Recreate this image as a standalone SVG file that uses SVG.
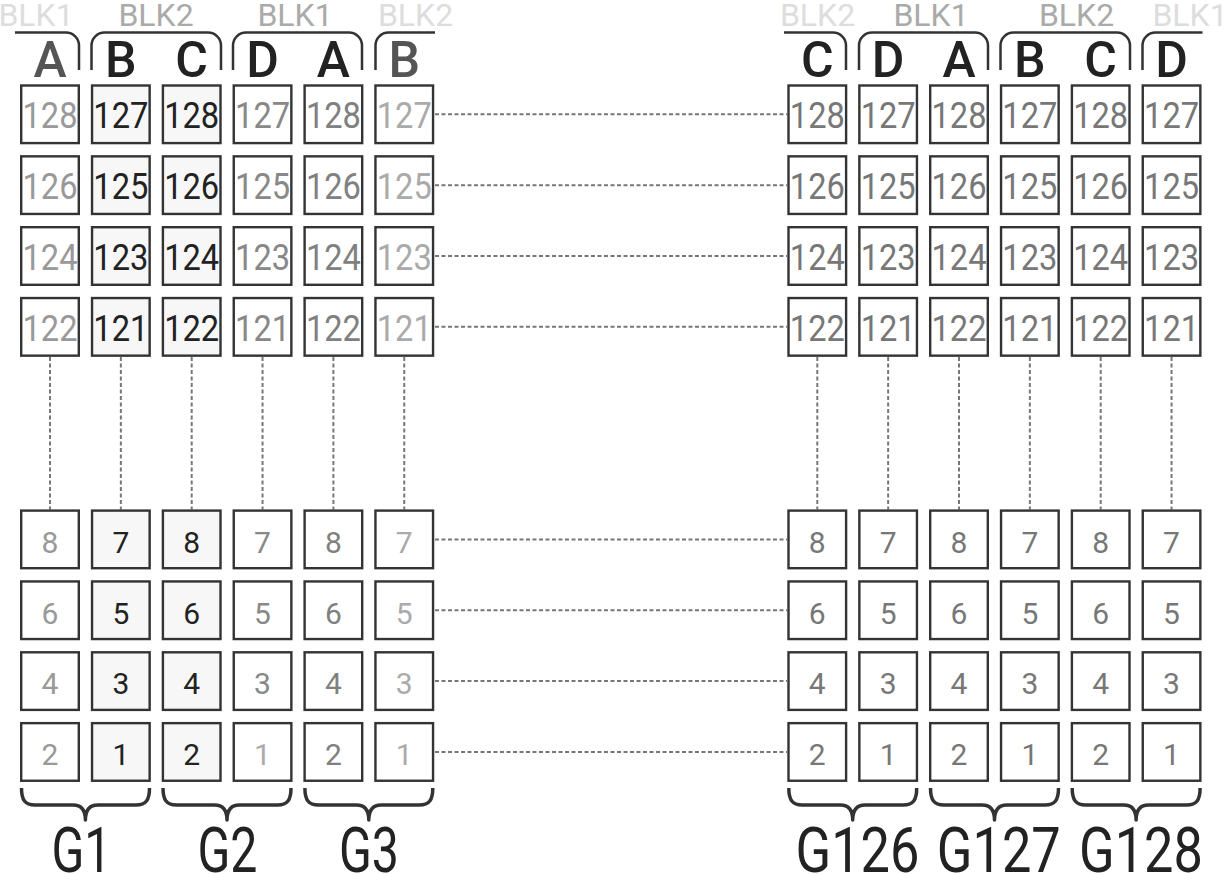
<svg xmlns="http://www.w3.org/2000/svg" width="1226" height="874" viewBox="0 0 1226 874">
<style>
text{font-family:Roboto,"Liberation Sans",sans-serif;text-anchor:middle}
.cell rect{fill:#fff;stroke:#333;stroke-width:2.4}
.hl rect{fill:#f7f7f7}
.n3{font-size:37px}
.n1{font-size:30px}
.ka{fill:#999}.kb{fill:#222}.kd{fill:#888}.ke{fill:#808080}.kf{fill:#aaa}.kr{fill:#777}
.blk{font-size:32px}
.bl{fill:#ddd}.bm{fill:#aaa}
.hd{font-size:50px;font-weight:500}
.hg{fill:#555}.hk{fill:#222}
.br{fill:none;stroke:#333;stroke-width:2.5}
.cb{fill:none;stroke:#333;stroke-width:3.5;stroke-linejoin:round}
.gl{font-size:63px;fill:#222}
.con line{stroke:#777;stroke-width:2;stroke-dasharray:4 2.5}
</style>
<g id="connectors" class="con">
<line x1="435" y1="114.3" x2="787" y2="114.3"/>
<line x1="435" y1="185.15" x2="787" y2="185.15"/>
<line x1="435" y1="256" x2="787" y2="256"/>
<line x1="435" y1="326.85" x2="787" y2="326.85"/>
<line x1="435" y1="539.4" x2="787" y2="539.4"/>
<line x1="435" y1="610.25" x2="787" y2="610.25"/>
<line x1="435" y1="681.1" x2="787" y2="681.1"/>
<line x1="435" y1="751.95" x2="787" y2="751.95"/>
<line x1="50" y1="357" x2="50" y2="509.4"/>
<line x1="120.85" y1="357" x2="120.85" y2="509.4"/>
<line x1="191.7" y1="357" x2="191.7" y2="509.4"/>
<line x1="262.55" y1="357" x2="262.55" y2="509.4"/>
<line x1="333.4" y1="357" x2="333.4" y2="509.4"/>
<line x1="404.25" y1="357" x2="404.25" y2="509.4"/>
<line x1="817.3" y1="357" x2="817.3" y2="509.4"/>
<line x1="888.15" y1="357" x2="888.15" y2="509.4"/>
<line x1="959" y1="357" x2="959" y2="509.4"/>
<line x1="1029.85" y1="357" x2="1029.85" y2="509.4"/>
<line x1="1100.7" y1="357" x2="1100.7" y2="509.4"/>
<line x1="1171.55" y1="357" x2="1171.55" y2="509.4"/>
</g>
<g id="blk-labels" class="blk">
<text x="36" y="25.5" class="bl">BLK1</text>
<text x="156" y="25.5" class="bm">BLK2</text>
<text x="295" y="25.5" class="bm">BLK1</text>
<text x="415.5" y="25.5" class="bl">BLK2</text>
<text x="817.5" y="25.5" class="bl">BLK2</text>
<text x="931" y="25.5" class="bm">BLK1</text>
<text x="1076.5" y="25.5" class="bm">BLK2</text>
<text x="1190" y="25.5" class="bl">BLK1</text>
</g>
<g id="brackets" class="br">
<path d="M15,32.5 H66 A13,13 0 0 1 79,45.5 V70"/>
<path d="M91.5,70 V45.5 A13,13 0 0 1 104.5,32.5 H208 A13,13 0 0 1 221,45.5 V70"/>
<path d="M233,70 V45.5 A13,13 0 0 1 246,32.5 H349 A13,13 0 0 1 362,45.5 V70"/>
<path d="M375.5,70 V45.5 A13,13 0 0 1 388.5,32.5 H435"/>
<path d="M784,32.5 H833 A13,13 0 0 1 846,45.5 V70"/>
<path d="M859,70 V45.5 A13,13 0 0 1 872,32.5 H975 A13,13 0 0 1 988,45.5 V70"/>
<path d="M1000.5,70 V45.5 A13,13 0 0 1 1013.5,32.5 H1117 A13,13 0 0 1 1130,45.5 V70"/>
<path d="M1142.5,70 V45.5 A13,13 0 0 1 1155.5,32.5 H1202.5"/>
</g>
<g id="headers" class="hd">
<text x="50" y="77" class="hg">A</text>
<text x="120.85" y="77" class="hk">B</text>
<text x="191.7" y="77" class="hk">C</text>
<text x="262.55" y="77" class="hk">D</text>
<text x="333.4" y="77" class="hk">A</text>
<text x="404.25" y="77" class="hg">B</text>
<text x="817.3" y="77" class="hk">C</text>
<text x="888.15" y="77" class="hk">D</text>
<text x="959" y="77" class="hk">A</text>
<text x="1029.85" y="77" class="hk">B</text>
<text x="1100.7" y="77" class="hk">C</text>
<text x="1171.55" y="77" class="hk">D</text>
</g>
<!-- Left column 1 (A) -->
<g id="L1-128" class="cell" transform="translate(20,84.3)"><rect x="1.2" y="1.2" width="57.6" height="57.6"/><text x="30" y="44" class="n3 ka" textLength="55" lengthAdjust="spacingAndGlyphs">128</text></g>
<g id="L1-126" class="cell" transform="translate(20,155.15)"><rect x="1.2" y="1.2" width="57.6" height="57.6"/><text x="30" y="44" class="n3 ka" textLength="55" lengthAdjust="spacingAndGlyphs">126</text></g>
<g id="L1-124" class="cell" transform="translate(20,226)"><rect x="1.2" y="1.2" width="57.6" height="57.6"/><text x="30" y="44" class="n3 ka" textLength="55" lengthAdjust="spacingAndGlyphs">124</text></g>
<g id="L1-122" class="cell" transform="translate(20,296.85)"><rect x="1.2" y="1.2" width="57.6" height="57.6"/><text x="30" y="44" class="n3 ka" textLength="55" lengthAdjust="spacingAndGlyphs">122</text></g>
<g id="L1-8" class="cell" transform="translate(20,509.4)"><rect x="1.2" y="1.2" width="57.6" height="57.6"/><text x="30" y="43.3" class="n1 ka">8</text></g>
<g id="L1-6" class="cell" transform="translate(20,580.25)"><rect x="1.2" y="1.2" width="57.6" height="57.6"/><text x="30" y="43.3" class="n1 ka">6</text></g>
<g id="L1-4" class="cell" transform="translate(20,651.1)"><rect x="1.2" y="1.2" width="57.6" height="57.6"/><text x="30" y="43.3" class="n1 ka">4</text></g>
<g id="L1-2" class="cell" transform="translate(20,721.95)"><rect x="1.2" y="1.2" width="57.6" height="57.6"/><text x="30" y="43.3" class="n1 ka">2</text></g>
<!-- Left column 2 (B) -->
<g id="L2-127" class="cell hl" transform="translate(90.85,84.3)"><rect x="1.2" y="1.2" width="57.6" height="57.6"/><text x="30" y="44" class="n3 kb" textLength="55" lengthAdjust="spacingAndGlyphs">127</text></g>
<g id="L2-125" class="cell hl" transform="translate(90.85,155.15)"><rect x="1.2" y="1.2" width="57.6" height="57.6"/><text x="30" y="44" class="n3 kb" textLength="55" lengthAdjust="spacingAndGlyphs">125</text></g>
<g id="L2-123" class="cell hl" transform="translate(90.85,226)"><rect x="1.2" y="1.2" width="57.6" height="57.6"/><text x="30" y="44" class="n3 kb" textLength="55" lengthAdjust="spacingAndGlyphs">123</text></g>
<g id="L2-121" class="cell hl" transform="translate(90.85,296.85)"><rect x="1.2" y="1.2" width="57.6" height="57.6"/><text x="30" y="44" class="n3 kb" textLength="55" lengthAdjust="spacingAndGlyphs">121</text></g>
<g id="L2-7" class="cell hl" transform="translate(90.85,509.4)"><rect x="1.2" y="1.2" width="57.6" height="57.6"/><text x="30" y="43.3" class="n1 kb">7</text></g>
<g id="L2-5" class="cell hl" transform="translate(90.85,580.25)"><rect x="1.2" y="1.2" width="57.6" height="57.6"/><text x="30" y="43.3" class="n1 kb">5</text></g>
<g id="L2-3" class="cell hl" transform="translate(90.85,651.1)"><rect x="1.2" y="1.2" width="57.6" height="57.6"/><text x="30" y="43.3" class="n1 kb">3</text></g>
<g id="L2-1" class="cell hl" transform="translate(90.85,721.95)"><rect x="1.2" y="1.2" width="57.6" height="57.6"/><text x="30" y="43.3" class="n1 kb">1</text></g>
<!-- Left column 3 (C) -->
<g id="L3-128" class="cell hl" transform="translate(161.7,84.3)"><rect x="1.2" y="1.2" width="57.6" height="57.6"/><text x="30" y="44" class="n3 kb" textLength="55" lengthAdjust="spacingAndGlyphs">128</text></g>
<g id="L3-126" class="cell hl" transform="translate(161.7,155.15)"><rect x="1.2" y="1.2" width="57.6" height="57.6"/><text x="30" y="44" class="n3 kb" textLength="55" lengthAdjust="spacingAndGlyphs">126</text></g>
<g id="L3-124" class="cell hl" transform="translate(161.7,226)"><rect x="1.2" y="1.2" width="57.6" height="57.6"/><text x="30" y="44" class="n3 kb" textLength="55" lengthAdjust="spacingAndGlyphs">124</text></g>
<g id="L3-122" class="cell hl" transform="translate(161.7,296.85)"><rect x="1.2" y="1.2" width="57.6" height="57.6"/><text x="30" y="44" class="n3 kb" textLength="55" lengthAdjust="spacingAndGlyphs">122</text></g>
<g id="L3-8" class="cell hl" transform="translate(161.7,509.4)"><rect x="1.2" y="1.2" width="57.6" height="57.6"/><text x="30" y="43.3" class="n1 kb">8</text></g>
<g id="L3-6" class="cell hl" transform="translate(161.7,580.25)"><rect x="1.2" y="1.2" width="57.6" height="57.6"/><text x="30" y="43.3" class="n1 kb">6</text></g>
<g id="L3-4" class="cell hl" transform="translate(161.7,651.1)"><rect x="1.2" y="1.2" width="57.6" height="57.6"/><text x="30" y="43.3" class="n1 kb">4</text></g>
<g id="L3-2" class="cell hl" transform="translate(161.7,721.95)"><rect x="1.2" y="1.2" width="57.6" height="57.6"/><text x="30" y="43.3" class="n1 kb">2</text></g>
<!-- Left column 4 (D) -->
<g id="L4-127" class="cell" transform="translate(232.55,84.3)"><rect x="1.2" y="1.2" width="57.6" height="57.6"/><text x="30" y="44" class="n3 kd" textLength="55" lengthAdjust="spacingAndGlyphs">127</text></g>
<g id="L4-125" class="cell" transform="translate(232.55,155.15)"><rect x="1.2" y="1.2" width="57.6" height="57.6"/><text x="30" y="44" class="n3 kd" textLength="55" lengthAdjust="spacingAndGlyphs">125</text></g>
<g id="L4-123" class="cell" transform="translate(232.55,226)"><rect x="1.2" y="1.2" width="57.6" height="57.6"/><text x="30" y="44" class="n3 kd" textLength="55" lengthAdjust="spacingAndGlyphs">123</text></g>
<g id="L4-121" class="cell" transform="translate(232.55,296.85)"><rect x="1.2" y="1.2" width="57.6" height="57.6"/><text x="30" y="44" class="n3 kd" textLength="55" lengthAdjust="spacingAndGlyphs">121</text></g>
<g id="L4-7" class="cell" transform="translate(232.55,509.4)"><rect x="1.2" y="1.2" width="57.6" height="57.6"/><text x="30" y="43.3" class="n1 kd">7</text></g>
<g id="L4-5" class="cell" transform="translate(232.55,580.25)"><rect x="1.2" y="1.2" width="57.6" height="57.6"/><text x="30" y="43.3" class="n1 kd">5</text></g>
<g id="L4-3" class="cell" transform="translate(232.55,651.1)"><rect x="1.2" y="1.2" width="57.6" height="57.6"/><text x="30" y="43.3" class="n1 kd">3</text></g>
<g id="L4-1" class="cell" transform="translate(232.55,721.95)"><rect x="1.2" y="1.2" width="57.6" height="57.6"/><text x="30" y="43.3" class="n1 kf">1</text></g>
<!-- Left column 5 (A) -->
<g id="L5-128" class="cell" transform="translate(303.4,84.3)"><rect x="1.2" y="1.2" width="57.6" height="57.6"/><text x="30" y="44" class="n3 ke" textLength="55" lengthAdjust="spacingAndGlyphs">128</text></g>
<g id="L5-126" class="cell" transform="translate(303.4,155.15)"><rect x="1.2" y="1.2" width="57.6" height="57.6"/><text x="30" y="44" class="n3 ke" textLength="55" lengthAdjust="spacingAndGlyphs">126</text></g>
<g id="L5-124" class="cell" transform="translate(303.4,226)"><rect x="1.2" y="1.2" width="57.6" height="57.6"/><text x="30" y="44" class="n3 ke" textLength="55" lengthAdjust="spacingAndGlyphs">124</text></g>
<g id="L5-122" class="cell" transform="translate(303.4,296.85)"><rect x="1.2" y="1.2" width="57.6" height="57.6"/><text x="30" y="44" class="n3 ke" textLength="55" lengthAdjust="spacingAndGlyphs">122</text></g>
<g id="L5-8" class="cell" transform="translate(303.4,509.4)"><rect x="1.2" y="1.2" width="57.6" height="57.6"/><text x="30" y="43.3" class="n1 ke">8</text></g>
<g id="L5-6" class="cell" transform="translate(303.4,580.25)"><rect x="1.2" y="1.2" width="57.6" height="57.6"/><text x="30" y="43.3" class="n1 ke">6</text></g>
<g id="L5-4" class="cell" transform="translate(303.4,651.1)"><rect x="1.2" y="1.2" width="57.6" height="57.6"/><text x="30" y="43.3" class="n1 ke">4</text></g>
<g id="L5-2" class="cell" transform="translate(303.4,721.95)"><rect x="1.2" y="1.2" width="57.6" height="57.6"/><text x="30" y="43.3" class="n1 ke">2</text></g>
<!-- Left column 6 (B) -->
<g id="L6-127" class="cell" transform="translate(374.25,84.3)"><rect x="1.2" y="1.2" width="57.6" height="57.6"/><text x="30" y="44" class="n3 kf" textLength="55" lengthAdjust="spacingAndGlyphs">127</text></g>
<g id="L6-125" class="cell" transform="translate(374.25,155.15)"><rect x="1.2" y="1.2" width="57.6" height="57.6"/><text x="30" y="44" class="n3 kf" textLength="55" lengthAdjust="spacingAndGlyphs">125</text></g>
<g id="L6-123" class="cell" transform="translate(374.25,226)"><rect x="1.2" y="1.2" width="57.6" height="57.6"/><text x="30" y="44" class="n3 kf" textLength="55" lengthAdjust="spacingAndGlyphs">123</text></g>
<g id="L6-121" class="cell" transform="translate(374.25,296.85)"><rect x="1.2" y="1.2" width="57.6" height="57.6"/><text x="30" y="44" class="n3 kf" textLength="55" lengthAdjust="spacingAndGlyphs">121</text></g>
<g id="L6-7" class="cell" transform="translate(374.25,509.4)"><rect x="1.2" y="1.2" width="57.6" height="57.6"/><text x="30" y="43.3" class="n1 kf">7</text></g>
<g id="L6-5" class="cell" transform="translate(374.25,580.25)"><rect x="1.2" y="1.2" width="57.6" height="57.6"/><text x="30" y="43.3" class="n1 kf">5</text></g>
<g id="L6-3" class="cell" transform="translate(374.25,651.1)"><rect x="1.2" y="1.2" width="57.6" height="57.6"/><text x="30" y="43.3" class="n1 kf">3</text></g>
<g id="L6-1" class="cell" transform="translate(374.25,721.95)"><rect x="1.2" y="1.2" width="57.6" height="57.6"/><text x="30" y="43.3" class="n1 kf">1</text></g>
<!-- Right column 1 (C) -->
<g id="R1-128" class="cell" transform="translate(787.3,84.3)"><rect x="1.2" y="1.2" width="57.6" height="57.6"/><text x="30" y="44" class="n3 kr" textLength="55" lengthAdjust="spacingAndGlyphs">128</text></g>
<g id="R1-126" class="cell" transform="translate(787.3,155.15)"><rect x="1.2" y="1.2" width="57.6" height="57.6"/><text x="30" y="44" class="n3 kr" textLength="55" lengthAdjust="spacingAndGlyphs">126</text></g>
<g id="R1-124" class="cell" transform="translate(787.3,226)"><rect x="1.2" y="1.2" width="57.6" height="57.6"/><text x="30" y="44" class="n3 kr" textLength="55" lengthAdjust="spacingAndGlyphs">124</text></g>
<g id="R1-122" class="cell" transform="translate(787.3,296.85)"><rect x="1.2" y="1.2" width="57.6" height="57.6"/><text x="30" y="44" class="n3 kr" textLength="55" lengthAdjust="spacingAndGlyphs">122</text></g>
<g id="R1-8" class="cell" transform="translate(787.3,509.4)"><rect x="1.2" y="1.2" width="57.6" height="57.6"/><text x="30" y="43.3" class="n1 kr">8</text></g>
<g id="R1-6" class="cell" transform="translate(787.3,580.25)"><rect x="1.2" y="1.2" width="57.6" height="57.6"/><text x="30" y="43.3" class="n1 kr">6</text></g>
<g id="R1-4" class="cell" transform="translate(787.3,651.1)"><rect x="1.2" y="1.2" width="57.6" height="57.6"/><text x="30" y="43.3" class="n1 kr">4</text></g>
<g id="R1-2" class="cell" transform="translate(787.3,721.95)"><rect x="1.2" y="1.2" width="57.6" height="57.6"/><text x="30" y="43.3" class="n1 kr">2</text></g>
<!-- Right column 2 (D) -->
<g id="R2-127" class="cell" transform="translate(858.15,84.3)"><rect x="1.2" y="1.2" width="57.6" height="57.6"/><text x="30" y="44" class="n3 kr" textLength="55" lengthAdjust="spacingAndGlyphs">127</text></g>
<g id="R2-125" class="cell" transform="translate(858.15,155.15)"><rect x="1.2" y="1.2" width="57.6" height="57.6"/><text x="30" y="44" class="n3 kr" textLength="55" lengthAdjust="spacingAndGlyphs">125</text></g>
<g id="R2-123" class="cell" transform="translate(858.15,226)"><rect x="1.2" y="1.2" width="57.6" height="57.6"/><text x="30" y="44" class="n3 kr" textLength="55" lengthAdjust="spacingAndGlyphs">123</text></g>
<g id="R2-121" class="cell" transform="translate(858.15,296.85)"><rect x="1.2" y="1.2" width="57.6" height="57.6"/><text x="30" y="44" class="n3 kr" textLength="55" lengthAdjust="spacingAndGlyphs">121</text></g>
<g id="R2-7" class="cell" transform="translate(858.15,509.4)"><rect x="1.2" y="1.2" width="57.6" height="57.6"/><text x="30" y="43.3" class="n1 kr">7</text></g>
<g id="R2-5" class="cell" transform="translate(858.15,580.25)"><rect x="1.2" y="1.2" width="57.6" height="57.6"/><text x="30" y="43.3" class="n1 kr">5</text></g>
<g id="R2-3" class="cell" transform="translate(858.15,651.1)"><rect x="1.2" y="1.2" width="57.6" height="57.6"/><text x="30" y="43.3" class="n1 kr">3</text></g>
<g id="R2-1" class="cell" transform="translate(858.15,721.95)"><rect x="1.2" y="1.2" width="57.6" height="57.6"/><text x="30" y="43.3" class="n1 kr">1</text></g>
<!-- Right column 3 (A) -->
<g id="R3-128" class="cell" transform="translate(929,84.3)"><rect x="1.2" y="1.2" width="57.6" height="57.6"/><text x="30" y="44" class="n3 kr" textLength="55" lengthAdjust="spacingAndGlyphs">128</text></g>
<g id="R3-126" class="cell" transform="translate(929,155.15)"><rect x="1.2" y="1.2" width="57.6" height="57.6"/><text x="30" y="44" class="n3 kr" textLength="55" lengthAdjust="spacingAndGlyphs">126</text></g>
<g id="R3-124" class="cell" transform="translate(929,226)"><rect x="1.2" y="1.2" width="57.6" height="57.6"/><text x="30" y="44" class="n3 kr" textLength="55" lengthAdjust="spacingAndGlyphs">124</text></g>
<g id="R3-122" class="cell" transform="translate(929,296.85)"><rect x="1.2" y="1.2" width="57.6" height="57.6"/><text x="30" y="44" class="n3 kr" textLength="55" lengthAdjust="spacingAndGlyphs">122</text></g>
<g id="R3-8" class="cell" transform="translate(929,509.4)"><rect x="1.2" y="1.2" width="57.6" height="57.6"/><text x="30" y="43.3" class="n1 kr">8</text></g>
<g id="R3-6" class="cell" transform="translate(929,580.25)"><rect x="1.2" y="1.2" width="57.6" height="57.6"/><text x="30" y="43.3" class="n1 kr">6</text></g>
<g id="R3-4" class="cell" transform="translate(929,651.1)"><rect x="1.2" y="1.2" width="57.6" height="57.6"/><text x="30" y="43.3" class="n1 kr">4</text></g>
<g id="R3-2" class="cell" transform="translate(929,721.95)"><rect x="1.2" y="1.2" width="57.6" height="57.6"/><text x="30" y="43.3" class="n1 kr">2</text></g>
<!-- Right column 4 (B) -->
<g id="R4-127" class="cell" transform="translate(999.85,84.3)"><rect x="1.2" y="1.2" width="57.6" height="57.6"/><text x="30" y="44" class="n3 kr" textLength="55" lengthAdjust="spacingAndGlyphs">127</text></g>
<g id="R4-125" class="cell" transform="translate(999.85,155.15)"><rect x="1.2" y="1.2" width="57.6" height="57.6"/><text x="30" y="44" class="n3 kr" textLength="55" lengthAdjust="spacingAndGlyphs">125</text></g>
<g id="R4-123" class="cell" transform="translate(999.85,226)"><rect x="1.2" y="1.2" width="57.6" height="57.6"/><text x="30" y="44" class="n3 kr" textLength="55" lengthAdjust="spacingAndGlyphs">123</text></g>
<g id="R4-121" class="cell" transform="translate(999.85,296.85)"><rect x="1.2" y="1.2" width="57.6" height="57.6"/><text x="30" y="44" class="n3 kr" textLength="55" lengthAdjust="spacingAndGlyphs">121</text></g>
<g id="R4-7" class="cell" transform="translate(999.85,509.4)"><rect x="1.2" y="1.2" width="57.6" height="57.6"/><text x="30" y="43.3" class="n1 kr">7</text></g>
<g id="R4-5" class="cell" transform="translate(999.85,580.25)"><rect x="1.2" y="1.2" width="57.6" height="57.6"/><text x="30" y="43.3" class="n1 kr">5</text></g>
<g id="R4-3" class="cell" transform="translate(999.85,651.1)"><rect x="1.2" y="1.2" width="57.6" height="57.6"/><text x="30" y="43.3" class="n1 kr">3</text></g>
<g id="R4-1" class="cell" transform="translate(999.85,721.95)"><rect x="1.2" y="1.2" width="57.6" height="57.6"/><text x="30" y="43.3" class="n1 kr">1</text></g>
<!-- Right column 5 (C) -->
<g id="R5-128" class="cell" transform="translate(1070.7,84.3)"><rect x="1.2" y="1.2" width="57.6" height="57.6"/><text x="30" y="44" class="n3 kr" textLength="55" lengthAdjust="spacingAndGlyphs">128</text></g>
<g id="R5-126" class="cell" transform="translate(1070.7,155.15)"><rect x="1.2" y="1.2" width="57.6" height="57.6"/><text x="30" y="44" class="n3 kr" textLength="55" lengthAdjust="spacingAndGlyphs">126</text></g>
<g id="R5-124" class="cell" transform="translate(1070.7,226)"><rect x="1.2" y="1.2" width="57.6" height="57.6"/><text x="30" y="44" class="n3 kr" textLength="55" lengthAdjust="spacingAndGlyphs">124</text></g>
<g id="R5-122" class="cell" transform="translate(1070.7,296.85)"><rect x="1.2" y="1.2" width="57.6" height="57.6"/><text x="30" y="44" class="n3 kr" textLength="55" lengthAdjust="spacingAndGlyphs">122</text></g>
<g id="R5-8" class="cell" transform="translate(1070.7,509.4)"><rect x="1.2" y="1.2" width="57.6" height="57.6"/><text x="30" y="43.3" class="n1 kr">8</text></g>
<g id="R5-6" class="cell" transform="translate(1070.7,580.25)"><rect x="1.2" y="1.2" width="57.6" height="57.6"/><text x="30" y="43.3" class="n1 kr">6</text></g>
<g id="R5-4" class="cell" transform="translate(1070.7,651.1)"><rect x="1.2" y="1.2" width="57.6" height="57.6"/><text x="30" y="43.3" class="n1 kr">4</text></g>
<g id="R5-2" class="cell" transform="translate(1070.7,721.95)"><rect x="1.2" y="1.2" width="57.6" height="57.6"/><text x="30" y="43.3" class="n1 kr">2</text></g>
<!-- Right column 6 (D) -->
<g id="R6-127" class="cell" transform="translate(1141.55,84.3)"><rect x="1.2" y="1.2" width="57.6" height="57.6"/><text x="30" y="44" class="n3 kr" textLength="55" lengthAdjust="spacingAndGlyphs">127</text></g>
<g id="R6-125" class="cell" transform="translate(1141.55,155.15)"><rect x="1.2" y="1.2" width="57.6" height="57.6"/><text x="30" y="44" class="n3 kr" textLength="55" lengthAdjust="spacingAndGlyphs">125</text></g>
<g id="R6-123" class="cell" transform="translate(1141.55,226)"><rect x="1.2" y="1.2" width="57.6" height="57.6"/><text x="30" y="44" class="n3 kr" textLength="55" lengthAdjust="spacingAndGlyphs">123</text></g>
<g id="R6-121" class="cell" transform="translate(1141.55,296.85)"><rect x="1.2" y="1.2" width="57.6" height="57.6"/><text x="30" y="44" class="n3 kr" textLength="55" lengthAdjust="spacingAndGlyphs">121</text></g>
<g id="R6-7" class="cell" transform="translate(1141.55,509.4)"><rect x="1.2" y="1.2" width="57.6" height="57.6"/><text x="30" y="43.3" class="n1 kr">7</text></g>
<g id="R6-5" class="cell" transform="translate(1141.55,580.25)"><rect x="1.2" y="1.2" width="57.6" height="57.6"/><text x="30" y="43.3" class="n1 kr">5</text></g>
<g id="R6-3" class="cell" transform="translate(1141.55,651.1)"><rect x="1.2" y="1.2" width="57.6" height="57.6"/><text x="30" y="43.3" class="n1 kr">3</text></g>
<g id="R6-1" class="cell" transform="translate(1141.55,721.95)"><rect x="1.2" y="1.2" width="57.6" height="57.6"/><text x="30" y="43.3" class="n1 kr">1</text></g>
<!-- Group braces and labels -->
<g id="G1"><path class="cb" d="M21.5,788 C21.5,800 25,805 35,805 H73 C81,805 85.4,810 85.4,820 C85.4,810 90,805 98,805 H136 C146,805 149.5,800 149.5,788"/><text class="gl" x="81.5" y="871.7" textLength="60" lengthAdjust="spacingAndGlyphs">G1</text></g>
<g id="G2"><path class="cb" d="M163,788 C163,800 166.5,805 176.5,805 H214.5 C222.5,805 227,810 227,820 C227,810 231.5,805 239.5,805 H277.5 C287.5,805 291,800 291,788"/><text class="gl" x="227.5" y="871.7" textLength="60" lengthAdjust="spacingAndGlyphs">G2</text></g>
<g id="G3"><path class="cb" d="M304.9,788 C304.9,800 308.4,805 318.4,805 H356.4 C364.4,805 368.8,810 368.8,820 C368.8,810 373.3,805 381.3,805 H419.3 C429.3,805 432.8,800 432.8,788"/><text class="gl" x="369" y="871.7" textLength="60" lengthAdjust="spacingAndGlyphs">G3</text></g>
<g id="G126"><path class="cb" d="M788.8,788 C788.8,800 792.3,805 802.3,805 H840.3 C848.3,805 852.7,810 852.7,820 C852.7,810 857.2,805 865.2,805 H903.2 C913.2,805 916.7,800 916.7,788"/><text class="gl" x="857.5" y="871.7" textLength="124" lengthAdjust="spacingAndGlyphs">G126</text></g>
<g id="G127"><path class="cb" d="M930.5,788 C930.5,800 934,805 944,805 H982 C990,805 994.5,810 994.5,820 C994.5,810 999,805 1007,805 H1045 C1055,805 1058.5,800 1058.5,788"/><text class="gl" x="998.8" y="871.7" textLength="124" lengthAdjust="spacingAndGlyphs">G127</text></g>
<g id="G128"><path class="cb" d="M1072.2,788 C1072.2,800 1075.7,805 1085.7,805 H1123.7 C1131.7,805 1136.1,810 1136.1,820 C1136.1,810 1140.6,805 1148.6,805 H1186.6 C1196.6,805 1200.1,800 1200.1,788"/><text class="gl" x="1141" y="871.7" textLength="124" lengthAdjust="spacingAndGlyphs">G128</text></g>
</svg>
